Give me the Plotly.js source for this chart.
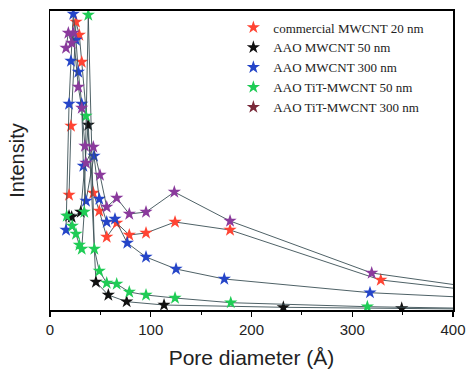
<!DOCTYPE html>
<html><head><meta charset="utf-8">
<script src="https://cdn.plot.ly/plotly-3.0.1.min.js"></script>
<style>body{margin:0;background:#fff}#chart{width:470px;height:370px}</style>
</head><body><div id="chart"></div>
<script>
// Pore diameter (Å) and intensity (arbitrary units) per series
const seriesNames = ["commercial MWCNT 20 nm","AAO MWCNT 50 nm","AAO MWCNT 300 nm","AAO TiT-MWCNT 50 nm","AAO TiT-MWCNT 300 nm"];
const redX = [18.9,20.8,25.8,29.1,31.5,43.0,48.9,56.3,66.2,78.7,95.3,124.1,178.7,328.3,460];
const redY = [115,184,288,275,248,117,99,73,87,75,77,88,80,30,15];
const blackX = [18.9,21.5,30.5,38.0,45.6,57.9,76.1,113.2,231.6,349.1,460];
const blackY = [94,93,98,185,28,15,8.3,5,2.7,1.7,0.5];
const blueX = [15.9,18.9,20.8,23.1,25.8,28.1,31.5,33.1,35.7,43.7,48.9,56.3,64.5,76.7,95.3,125.1,173,317.6,460];
const blueY = [80,206,249,296,270,238,206,144,109,154,111,88,91,67,53,41,31,17.3,10.4];
const greenX = [16.6,22.1,25.8,29.1,31.5,34.0,35.7,38.0,44.0,48.9,56.3,66.2,78.7,95.3,124.1,179.4,315,460];
const greenY = [94,84,76,65,61,98,194,295,61,39,27,26,18,15,12,7.3,3.3,1];
const purpleX = [15.9,18.2,21.5,23.1,28.1,31.5,34.7,35.7,43.0,49.6,56.3,66.2,78.7,95.3,123.4,178.7,319.3,460];
const purpleY = [262,277,267,277,223,202,164,147,163,135,103,112,96,98,118,89,37,17];
const markerColors = ["#ff4433","#111111","#2545c8","#1fcc55","#8a3a9c"];
const legendColors = ["#ff4433","#111111","#2545c8","#1fcc55","#7a2a3a"];
const xTicks = [0,100,200,300,400];

const xs = [redX, blackX, blueX, greenX, purpleX];
const ys = [redY, blackY, blueY, greenY, purpleY];
const traces = [];
for (let i = 0; i < 5; i++) {
  traces.push({x: xs[i], y: ys[i], mode: 'lines+markers', showlegend: false, cliponaxis: true,
    line: {color: '#3a4f55', width: 0.9},
    marker: {symbol: 'star', size: 10, color: markerColors[i], line: {width: 0}}});
}
for (let i = 0; i < 5; i++) {
  traces.push({x: [null], y: [null], mode: 'markers', name: seriesNames[i], showlegend: true,
    marker: {symbol: 'star', size: 10, color: legendColors[i]}});
}
const layout = {
  width: 470, height: 370,
  margin: {l: 50, r: 17, t: 11, b: 60},
  paper_bgcolor: '#fff', plot_bgcolor: '#fff',
  showlegend: true,
  legend: {x: 0.455, y: 0.995, xanchor: 'left', yanchor: 'top', bgcolor: 'rgba(0,0,0,0)',
    font: {family: 'Liberation Serif, Times New Roman, serif', size: 13, color: '#222'},
    itemwidth: 30, tracegroupgap: 0},
  xaxis: {range: [0, 400], tickvals: xTicks, ticktext: xTicks.map(String), ticks: 'outside', ticklen: 5, tickwidth: 1.2,
    tickcolor: '#000', showline: true, linecolor: '#000', linewidth: 1.8, mirror: true, showgrid: false, zeroline: false,
    minor: {ticks: 'outside', ticklen: 3, dtick: 50, tick0: 0, tickcolor: '#000', tickwidth: 1.2, showgrid: false},
    tickfont: {family: 'Liberation Sans, Arial, sans-serif', size: 15, color: '#222'},
    title: {text: 'Pore diameter (Å)', font: {family: 'Liberation Sans, Arial, sans-serif', size: 21, color: '#222'}, standoff: 13}},
  yaxis: {range: [0, 299], showticklabels: false, ticks: '', showline: true, linecolor: '#000', linewidth: 1.5, mirror: true,
    showgrid: false, zeroline: false,
    title: {text: 'Intensity', font: {family: 'Liberation Sans, Arial, sans-serif', size: 20, color: '#222'}, standoff: 18}}
};
Plotly.newPlot('chart', traces, layout, {displayModeBar: false, staticPlot: true});
</script></body></html>
